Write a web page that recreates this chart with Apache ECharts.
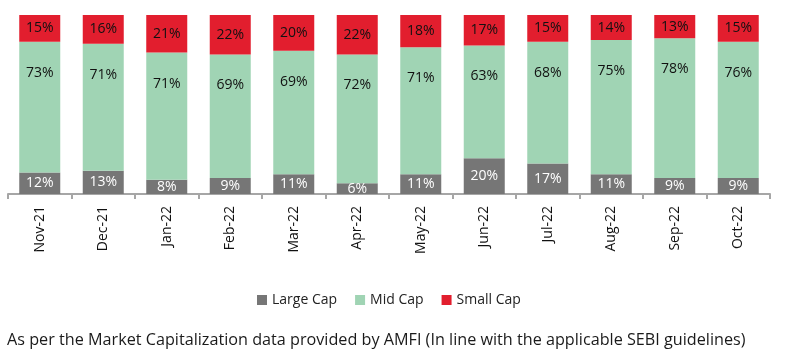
<!DOCTYPE html>
<html>
<head>
<meta charset="utf-8">
<script src="https://cdn.jsdelivr.net/npm/echarts@6/dist/echarts.min.js"></script>
<style>
html,body{margin:0;padding:0;background:#fff;}
#chart{width:785px;height:362px;}
</style>
</head>
<body>
<div id="chart"></div>
<script>
const categories = ['Nov-21','Dec-21','Jan-22','Feb-22','Mar-22','Apr-22','May-22','Jun-22','Jul-22','Aug-22','Sep-22','Oct-22'];
const largeCap = [12,13,8,9,11,6,11,20,17,11,9,9];
const midCap = [73,71,71,69,69,72,71,63,68,75,78,76];
const smallCap = [15,16,21,22,20,22,18,17,15,14,13,15];
const footnote = 'As per the Market Capitalization data provided by AMFI (In line with the applicable SEBI guidelines)';

const FONT = 'Open Sans';
const chart = echarts.init(document.getElementById('chart'));
const lbl = (color, pos, dist) => ({
  show: true, position: pos, distance: dist, color: color,
  fontFamily: FONT, fontSize: 14, formatter: p => p.value + '%'
});
chart.setOption({
  animation: false,
  grid: {left: 8, right: 15, top: 15, bottom: 168, containLabel: false},
  legend: {
    bottom: 50, left: 252, itemWidth: 10, itemHeight: 10, itemGap: 18,
    icon: 'rect',
    textStyle: {fontFamily: FONT, fontSize: 14, color: '#222'},
    data: ['Large Cap','Mid Cap','Small Cap']
  },
  xAxis: {
    type: 'category', data: categories,
    axisLine: {lineStyle: {color: '#a6a6a6', width: 2}},
    axisTick: {show: true, length: 5, alignWithLabel: false, lineStyle: {color: '#a6a6a6', width: 2}},
    axisLabel: {rotate: 90, margin: 12, color: '#111', fontFamily: FONT, fontSize: 14}
  },
  yAxis: {type: 'value', min: 0, max: 100, show: false, splitLine: {show: false}},
  series: [
    {name: 'Large Cap', type: 'bar', stack: 'a', barWidth: 41, data: largeCap,
     itemStyle: {color: '#767676'}, label: lbl('#fff', 'inside')},
    {name: 'Mid Cap', type: 'bar', stack: 'a', barWidth: 41, data: midCap,
     itemStyle: {color: '#a0d4b4'}, label: lbl('#111', 'insideTop', 24)},
    {name: 'Small Cap', type: 'bar', stack: 'a', barWidth: 41, data: smallCap,
     itemStyle: {color: '#e21e2e'}, label: lbl('#111', 'inside')}
  ],
  graphic: [{
    type: 'text', left: 7, top: 332,
    style: {text: footnote, fontFamily: FONT, fontSize: 16.2, fill: '#1a1a1a'}
  }]
});
</script>
</body>
</html>
